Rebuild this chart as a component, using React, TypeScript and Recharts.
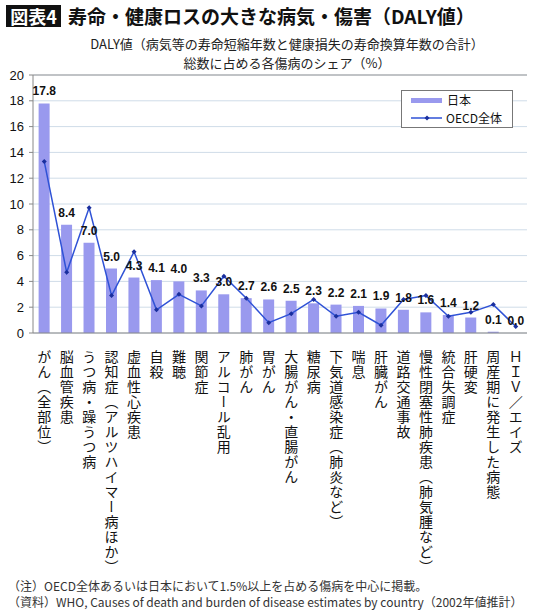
import React from "react";
import {
  ComposedChart,
  Bar,
  Line,
  XAxis,
  YAxis,
  CartesianGrid,
  LabelList,
  Legend,
  ReferenceLine,
} from "recharts";

// categories (vertical labels under the axis)
const diseases = [
  "がん（全部位）",
  "脳血管疾患",
  "うつ病・躁うつ病",
  "認知症（アルツハイマー病ほか）",
  "虚血性心疾患",
  "自殺",
  "難聴",
  "関節症",
  "アルコール乱用",
  "肺がん",
  "胃がん",
  "大腸がん・直腸がん",
  "糖尿病",
  "下気道感染症（肺炎など）",
  "喘息",
  "肝臓がん",
  "道路交通事故",
  "慢性閉塞性肺疾患（肺気腫など）",
  "統合失調症",
  "肝硬変",
  "周産期に発生した病態",
  "ＨＩＶ／エイズ",
];

const japan = [
  17.8, 8.4, 7.0, 5.0, 4.3, 4.1, 4.0, 3.3, 3.0, 2.7, 2.6, 2.5, 2.3, 2.2, 2.1,
  1.9, 1.8, 1.6, 1.4, 1.2, 0.1, 0.0,
];

const oecd = [
  13.3, 4.7, 9.7, 2.9, 6.3, 1.8, 3.0, 2.1, 4.4, 2.7, 0.8, 1.5, 2.6, 1.3, 1.6,
  0.6, 2.6, 2.9, 1.3, 1.6, 2.2, 0.5,
];

const yTicks = [0, 2, 4, 6, 8, 10, 12, 14, 16, 18, 20];

const data = diseases.map((name, i) => ({
  name,
  japan: japan[i],
  oecd: oecd[i],
}));

const JP = "'Noto Sans CJK JP', 'Noto Sans', sans-serif";
const NUM = "'Liberation Sans', Arial, sans-serif";
const BAR = "#9999ee";
const LINE = "#2f52d6";
const DOT = "#1a2f9e";

const VerticalTick = (props: any) => {
  const { x, y, payload } = props;
  return (
    <text
      x={x}
      y={y + 9}
      fill="#111"
      fontSize={14}
      fontFamily={JP}
      style={{ writingMode: "vertical-rl", letterSpacing: 1 }}
    >
      {payload.value}
    </text>
  );
};

const Diamond = (props: any) => {
  const { cx, cy, index } = props;
  if (cx == null || cy == null) return null;
  return (
    <path
      key={"d" + index}
      d={`M${cx},${cy - 2.5}L${cx + 2.5},${cy}L${cx},${cy + 2.5}L${cx - 2.5},${cy}Z`}
      fill={DOT}
    />
  );
};

const LegendBox = () => (
  <div
    style={{
      width: 112,
      height: 38,
      border: "1px solid #777",
      background: "#fff",
      fontFamily: JP,
      fontSize: 12,
      lineHeight: "18px",
      color: "#111",
      boxSizing: "border-box",
      padding: "0 0 0 9px",
    }}
  >
    <div style={{ display: "flex", alignItems: "center", height: 18 }}>
      <span
        style={{ width: 31, height: 5, background: BAR, marginRight: 5 }}
      />
      日本
    </div>
    <div style={{ display: "flex", alignItems: "center", height: 18 }}>
      <svg width={31} height={8} style={{ marginRight: 4 }}>
        <line x1={0} y1={4} x2={31} y2={4} stroke={LINE} strokeWidth={1.5} />
        <path d="M16,1.5L18.5,4L16,6.5L13.5,4Z" fill={DOT} />
      </svg>
      OECD全体
    </div>
  </div>
);

export default function App() {
  return (
    <div
      style={{
        position: "absolute",
        left: 0,
        top: 0,
        width: 540,
        height: 616,
        background: "#fff",
        fontFamily: JP,
      }}
    >
      <div
        style={{
          position: "absolute",
          left: 6,
          top: 5,
          height: 22,
          width: 55,
          background: "#111",
          color: "#fff",
          fontWeight: 700,
          fontSize: 18,
          lineHeight: "22px",
          textAlign: "center",
        }}
      >
        図表4
      </div>
      <div
        style={{
          position: "absolute",
          left: 68,
          top: 3,
          fontWeight: 700,
          fontSize: 19,
          lineHeight: "26px",
          color: "#111",
          whiteSpace: "nowrap",
        }}
      >
        寿命・健康ロスの大きな病気・傷害（DALY値）
      </div>
      <div
        style={{
          position: "absolute",
          left: 0,
          width: 574,
          top: 34,
          textAlign: "center",
          fontSize: 13,
          lineHeight: "19px",
          color: "#222",
        }}
      >
        DALY値（病気等の寿命短縮年数と健康損失の寿命換算年数の合計）
        <br />
        総数に占める各傷病のシェア（%）
      </div>

      <ComposedChart
        width={540}
        height={616}
        data={data}
        margin={{ top: 75, right: 13, left: 0, bottom: 0 }}
        barCategoryGap="25%"
      >
        <CartesianGrid vertical={false} stroke="#cfdce8" />
        <ReferenceLine y={20} stroke="#999" />
        <XAxis
          dataKey="name"
          interval={0}
          height={283}
          tick={<VerticalTick />}
          tickLine={false}
          axisLine={{ stroke: "#888" }}
        />
        <YAxis
          domain={[0, 20]}
          ticks={yTicks}
          width={33}
          tickSize={4}
          tickMargin={5}
          axisLine={{ stroke: "#888" }}
          tickLine={{ stroke: "#888" }}
          tick={{ fill: "#111", fontSize: 13, fontFamily: NUM }}
        />
        <YAxis
          yAxisId="right"
          orientation="right"
          width={0}
          tick={false}
          tickLine={false}
          axisLine={{ stroke: "#bbb" }}
        />
        {/* middle + horizontal so the legend does not eat plot space */}
        <Legend
          layout="horizontal"
          verticalAlign="middle"
          content={<LegendBox />}
          wrapperStyle={{ top: 90, left: 401, width: 112 }}
        />
        <Bar dataKey="japan" name="日本" fill={BAR} isAnimationActive={false} />
        {/* invisible carrier for the value labels so the 0.0 bar still gets one */}
        <Line
          dataKey="japan"
          stroke="none"
          dot={false}
          activeDot={false}
          legendType="none"
          isAnimationActive={false}
        >
          <LabelList
            dataKey="japan"
            position="top"
            offset={8}
            formatter={(v: any) => Number(v).toFixed(1)}
            style={{ fontSize: 12, fontWeight: 700, fill: "#111", fontFamily: NUM }}
          />
        </Line>
        <Line
          dataKey="oecd"
          name="OECD全体"
          type="linear"
          stroke={LINE}
          strokeWidth={1.5}
          dot={<Diamond />}
          activeDot={false}
          isAnimationActive={false}
        />
      </ComposedChart>

      <div
        style={{
          position: "absolute",
          left: 8,
          top: 578,
          fontSize: 12,
          lineHeight: "16px",
          color: "#333",
          whiteSpace: "nowrap",
        }}
      >
        （注）OECD全体あるいは日本において1.5%以上を占める傷病を中心に掲載。
        <br />
        （資料）WHO, Causes of death and burden of disease estimates by country（2002年値推計）
      </div>
    </div>
  );
}
